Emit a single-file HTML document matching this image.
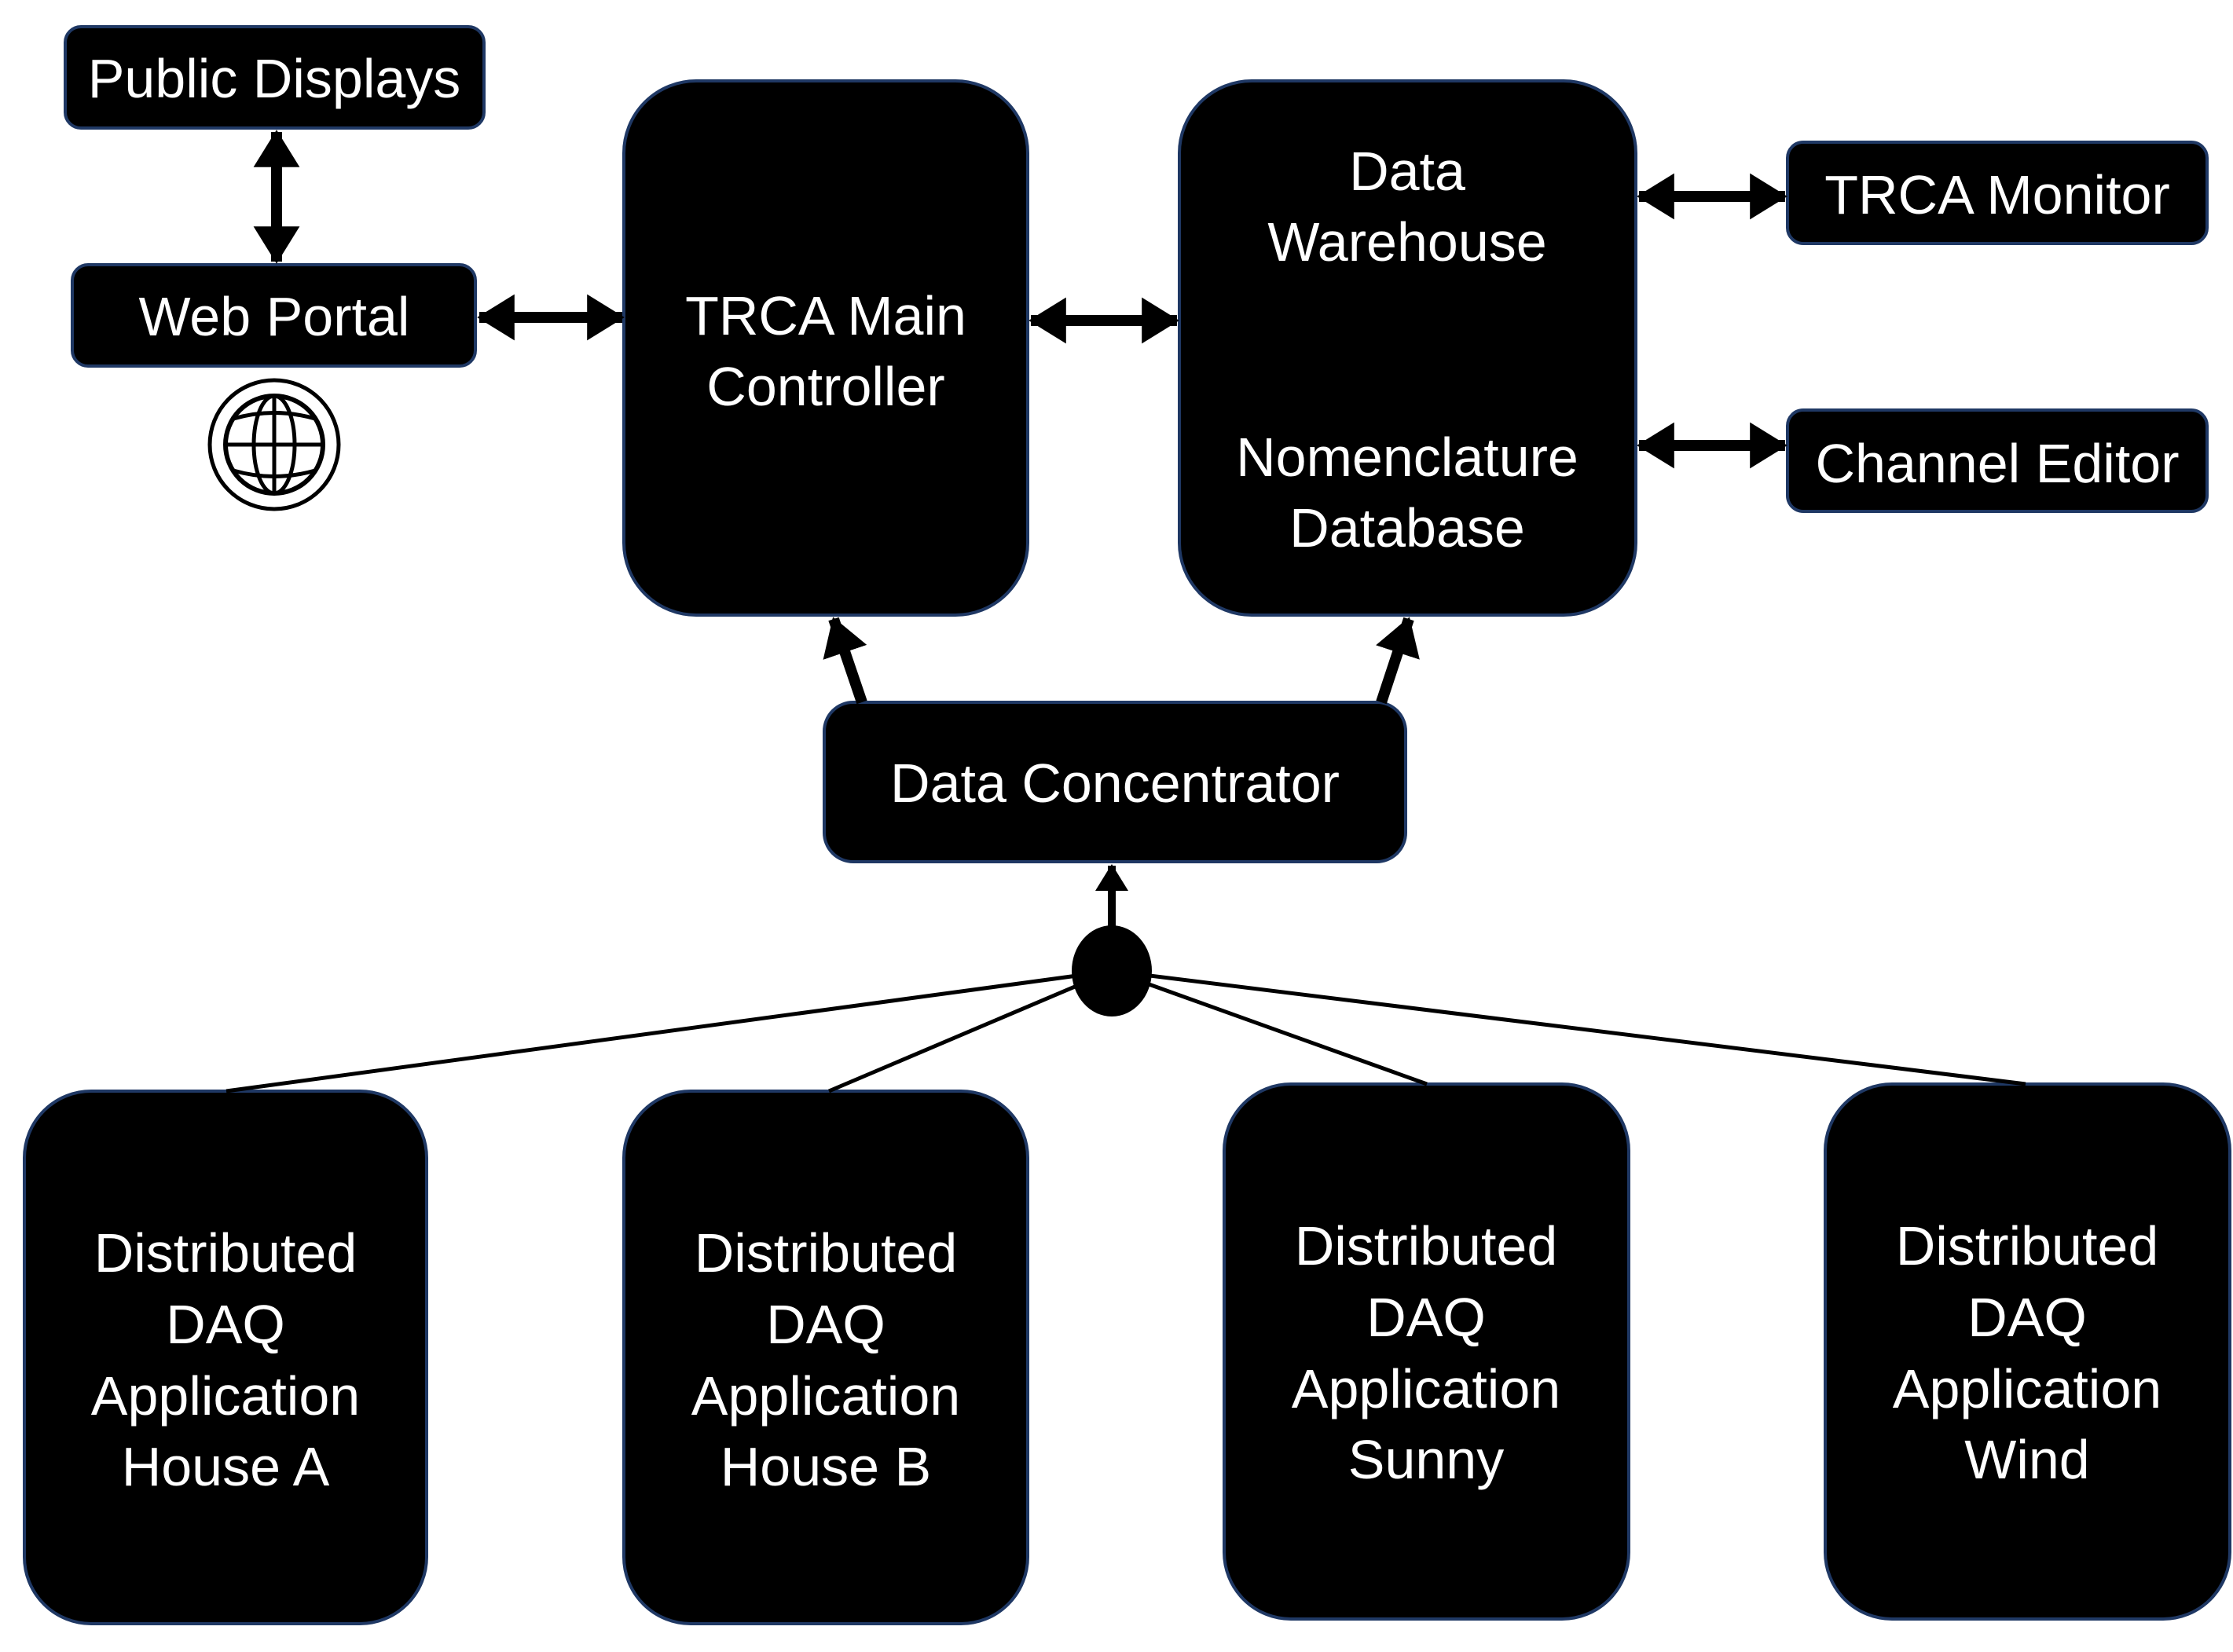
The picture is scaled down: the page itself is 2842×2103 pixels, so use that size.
<!DOCTYPE html>
<html><head><style>
html,body{margin:0;padding:0;background:#fff;}
svg{display:block;}
text{font-family:"Liberation Sans",sans-serif;fill:#fff;font-size:70px;text-anchor:middle;dominant-baseline:central;}
</style></head><body>
<svg width="2842" height="2103" viewBox="0 0 2842 2103" xmlns="http://www.w3.org/2000/svg">
<defs>
<marker id="ah" markerWidth="3.4" markerHeight="4.2" refX="3.2" refY="2.1" orient="auto-start-reverse" markerUnits="strokeWidth">
<path d="M0,0 L3.4,2.1 L0,4.2 z" fill="#000"/>
</marker>
</defs>
<g fill="#000" stroke="#1f3864" stroke-width="4">
<rect x="83" y="34" width="533" height="129" rx="20"/>
<rect x="92" y="337" width="513" height="129" rx="20"/>
<rect x="794" y="103" width="514" height="680" rx="92"/>
<rect x="1501" y="103" width="581" height="680" rx="92"/>
<rect x="2275" y="181" width="534" height="129" rx="20"/>
<rect x="2275" y="522" width="534" height="129" rx="20"/>
<rect x="1049" y="894" width="740" height="203" rx="37"/>
<rect x="31" y="1389" width="512" height="678" rx="85"/>
<rect x="794" y="1389" width="514" height="678" rx="85"/>
<rect x="1558" y="1380" width="515" height="681" rx="85"/>
<rect x="2323" y="1380" width="515" height="681" rx="85"/>
</g>
<g fill="none" stroke="#000">
<ellipse cx="349" cy="566" rx="82" ry="82" stroke-width="5"/>
<circle cx="349" cy="566" r="62" stroke-width="6"/>
<ellipse cx="349" cy="566" rx="26" ry="62" stroke-width="5"/>
<line x1="349" y1="504" x2="349" y2="628" stroke-width="5"/>
<line x1="287" y1="566" x2="411" y2="566" stroke-width="5"/>
<path d="M297,533 Q349,518 401,533 M297,599 Q349,614 401,599" stroke-width="5"/>
</g>
<g stroke="#000" stroke-width="14" fill="none">
<line x1="352" y1="168" x2="352" y2="333" marker-start="url(#ah)" marker-end="url(#ah)"/>
<line x1="610" y1="404" x2="792" y2="404" marker-start="url(#ah)" marker-end="url(#ah)"/>
<line x1="1312" y1="408" x2="1498" y2="408" marker-start="url(#ah)" marker-end="url(#ah)"/>
<line x1="2086" y1="250" x2="2272" y2="250" marker-start="url(#ah)" marker-end="url(#ah)"/>
<line x1="2086" y1="567" x2="2272" y2="567" marker-start="url(#ah)" marker-end="url(#ah)"/>
<line x1="1097" y1="894" x2="1061" y2="788" marker-end="url(#ah)"/>
<line x1="1758" y1="894" x2="1793" y2="788" marker-end="url(#ah)"/>
<line x1="1415" y1="1180" x2="1415" y2="1102" stroke-width="10" marker-end="url(#ah)"/>
</g>
<g stroke="#000" stroke-width="5">
<line x1="1415" y1="1236" x2="288" y2="1389"/>
<line x1="1415" y1="1236" x2="1055" y2="1389"/>
<line x1="1415" y1="1236" x2="1816" y2="1380"/>
<line x1="1415" y1="1236" x2="2578" y2="1380"/>
</g>
<ellipse cx="1415" cy="1236" rx="51" ry="58" fill="#000"/>
<text x="349" y="100">Public Displays</text>
<text x="349" y="403">Web Portal</text>
<text x="1051" y="402">TRCA Main</text>
<text x="1051" y="492">Controller</text>
<text x="1791" y="218">Data</text>
<text x="1791" y="308">Warehouse</text>
<text x="1791" y="582">Nomenclature</text>
<text x="1791" y="672">Database</text>
<text x="2542" y="248">TRCA Monitor</text>
<text x="2542" y="590">Channel Editor</text>
<text x="1419" y="997">Data Concentrator</text>
<g>
<text x="287" y="1595">Distributed</text><text x="287" y="1686">DAQ</text><text x="287" y="1777">Application</text><text x="287" y="1867">House A</text>
<text x="1051" y="1595">Distributed</text><text x="1051" y="1686">DAQ</text><text x="1051" y="1777">Application</text><text x="1051" y="1867">House B</text>
<text x="1815" y="1586">Distributed</text><text x="1815" y="1677">DAQ</text><text x="1815" y="1768">Application</text><text x="1815" y="1858">Sunny</text>
<text x="2580" y="1586">Distributed</text><text x="2580" y="1677">DAQ</text><text x="2580" y="1768">Application</text><text x="2580" y="1858">Wind</text>
</g>
</svg>
</body></html>
